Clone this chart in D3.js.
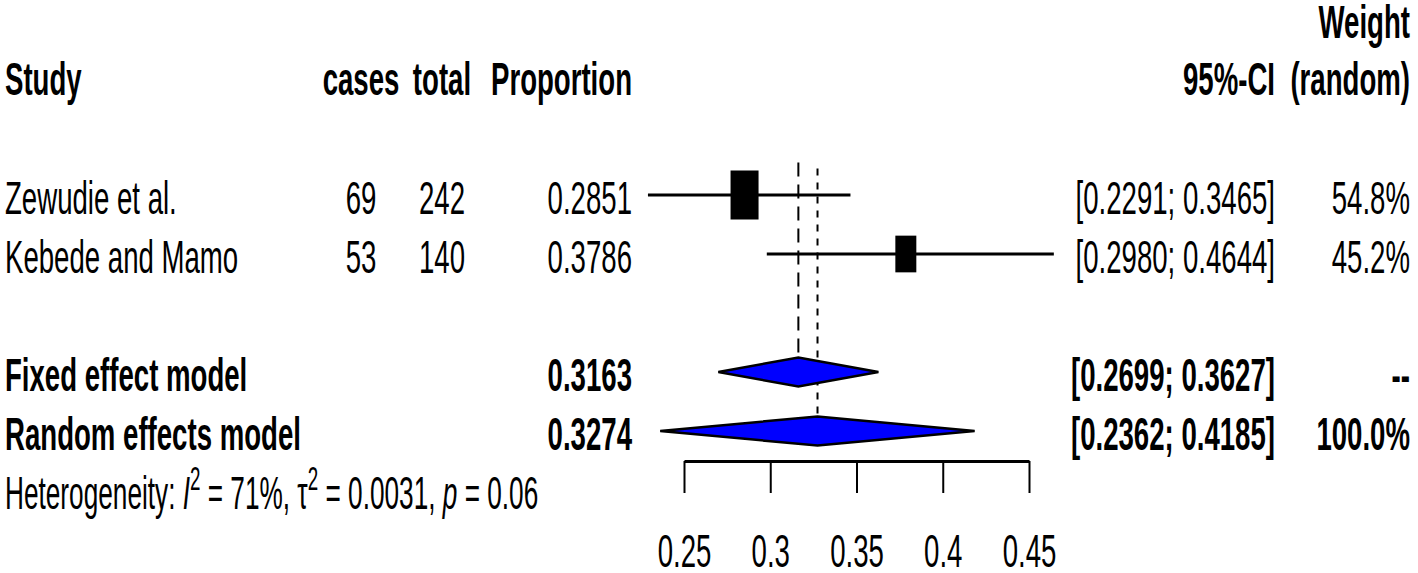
<!DOCTYPE html>
<html>
<head>
<meta charset="utf-8">
<script src="https://cdn.jsdelivr.net/npm/d3@7"></script>
<style>
  html, body { margin: 0; padding: 0; background: #fff; }
  svg { display: block; }
  text { font-family: "Liberation Sans", Arial, sans-serif; font-size: 46px; fill: #000; }
</style>
</head>
<body>
<svg id="chart" width="1418" height="573"></svg>
<script>
// ---- data ----
const studies = ["Zewudie et al.", "Kebede and Mamo"];
const cases = [69, 53];
const totals = [242, 140];
const proportions = [0.2851, 0.3786];
const ciLower = [0.2291, 0.2980];
const ciUpper = [0.3465, 0.4644];
const weights = [54.8, 45.2];

const models = ["Fixed effect model", "Random effects model"];
const modelEst = [0.3163, 0.3274];
const modelLower = [0.2699, 0.2362];
const modelUpper = [0.3627, 0.4185];
const modelWeightLabels = ["--", "100.0%"];

const tickValues = [0.25, 0.3, 0.35, 0.4, 0.45];
const tickLabels = ["0.25", "0.3", "0.35", "0.4", "0.45"];

// ---- layout ----
const svg = d3.select("#chart");
const SX = 0.6; // condensed text

const x = d3.scaleLinear().domain([0.25, 0.45]).range([684, 1029]);
const rowY = d3.scaleLinear().domain([0, 4]).range([195, 431]);
const boxW = d3.scalePow().exponent(1.5).domain([0, d3.max(weights)]).range([0, 28]);
const boxH = d3.scalePow().exponent(1.5).domain([0, d3.max(weights)]).range([0, 49]);
const diamondHalf = 14.5;
const TB = 19; // baseline offset

function txt(x0, y0, s, anchor, bold) {
  return svg.append("text")
    .attr("transform", `translate(${x0},${y0}) scale(${SX},1)`)
    .attr("text-anchor", anchor || "start")
    .style("font-weight", bold ? "bold" : "normal")
    .text(s);
}

const fmt4 = d3.format(".4f");
const colStudy = 5, colCases = 361, colTotal = 442, colProp = 632, colCI = 1275, colW = 1410;

// headers
txt(colW, rowY(-3) + 20, "Weight", "end", true);
txt(colStudy, rowY(-2) + 18, "Study", "start", true);
txt(colCases, rowY(-2) + 18, "cases", "middle", true);
txt(colTotal, rowY(-2) + 18, "total", "middle", true);
txt(colProp, rowY(-2) + 18, "Proportion", "end", true);
txt(colCI, rowY(-2) + 18, "95%-CI", "end", true);
txt(colW, rowY(-2) + 18, "(random)", "end", true);

// reference lines
svg.append("line")
  .attr("x1", x(modelEst[0])).attr("x2", x(modelEst[0]))
  .attr("y1", rowY(-0.55)).attr("y2", rowY(3) - diamondHalf)
  .attr("stroke", "#000").attr("stroke-width", 2).attr("stroke-dasharray", "14,8");
svg.append("line")
  .attr("x1", x(modelEst[1])).attr("x2", x(modelEst[1]))
  .attr("y1", rowY(-0.45)).attr("y2", rowY(4) - diamondHalf)
  .attr("stroke", "#000").attr("stroke-width", 2).attr("stroke-dasharray", "7,7");

// studies
studies.forEach((s, i) => {
  const y = rowY(i);
  txt(colStudy, y + TB, s, "start", false);
  txt(colCases, y + TB, String(cases[i]), "middle", false);
  txt(colTotal, y + TB, String(totals[i]), "middle", false);
  txt(colProp, y + TB, fmt4(proportions[i]), "end", false);
  txt(colCI, y + TB, `[${fmt4(ciLower[i])}; ${fmt4(ciUpper[i])}]`, "end", false);
  txt(colW, y + TB, `${weights[i].toFixed(1)}%`, "end", false);
  svg.append("line")
    .attr("x1", x(ciLower[i])).attr("x2", x(ciUpper[i]))
    .attr("y1", y).attr("y2", y)
    .attr("stroke", "#000").attr("stroke-width", 3);
  const bw = boxW(weights[i]), bh = boxH(weights[i]);
  svg.append("rect")
    .attr("x", x(proportions[i]) - bw / 2).attr("y", y - bh / 2)
    .attr("width", bw).attr("height", bh)
    .attr("fill", "#000");
});

// models
models.forEach((m, j) => {
  const y = rowY(3 + j);
  txt(colStudy, y + TB, m, "start", true);
  txt(colProp, y + TB, fmt4(modelEst[j]), "end", true);
  txt(colCI, y + TB, `[${fmt4(modelLower[j])}; ${fmt4(modelUpper[j])}]`, "end", true);
  txt(colW, y + TB, modelWeightLabels[j], "end", true);
  const pts = [
    [x(modelLower[j]), y],
    [x(modelEst[j]), y - diamondHalf],
    [x(modelUpper[j]), y],
    [x(modelEst[j]), y + diamondHalf]
  ];
  svg.append("polygon")
    .attr("points", pts.map(p => p.join(",")).join(" "))
    .attr("fill", "#0000ff").attr("stroke", "#000").attr("stroke-width", 2.5)
    .attr("stroke-linejoin", "miter");
});

// heterogeneity
const het = svg.append("text")
  .attr("transform", `translate(${colStudy},${rowY(5) + TB}) scale(0.57,1)`);
het.append("tspan").text("Heterogeneity: ");
het.append("tspan").style("font-style", "italic").text("I");
het.append("tspan").attr("dy", -19).style("font-size", "33px").text("2");
het.append("tspan").attr("dy", 19).text(" = 71%, \u03C4");
het.append("tspan").attr("dy", -19).style("font-size", "33px").text("2");
het.append("tspan").attr("dy", 19).text(" = 0.0031, ");
het.append("tspan").style("font-style", "italic").text("p");
het.append("tspan").text(" = 0.06");

// axis
const axisY = 461;
const axis = d3.axisBottom(x)
  .tickValues(tickValues)
  .tickSize(32)
  .tickSizeOuter(0)
  .tickFormat((d, i) => tickLabels[i]);
const ag = svg.append("g").attr("transform", `translate(0,${axisY})`).call(axis);
ag.select(".domain").attr("stroke", "#000").attr("stroke-width", 3);
ag.selectAll(".tick line").attr("stroke", "#000").attr("stroke-width", 2);
ag.selectAll(".tick text")
  .attr("y", 106).attr("dy", null)
  .attr("transform", `scale(${SX},1)`)
  .attr("fill", "#000")
  .style("font-size", "46px")
  .style("font-family", "\"Liberation Sans\", Arial, sans-serif");
</script>
</body>
</html>
